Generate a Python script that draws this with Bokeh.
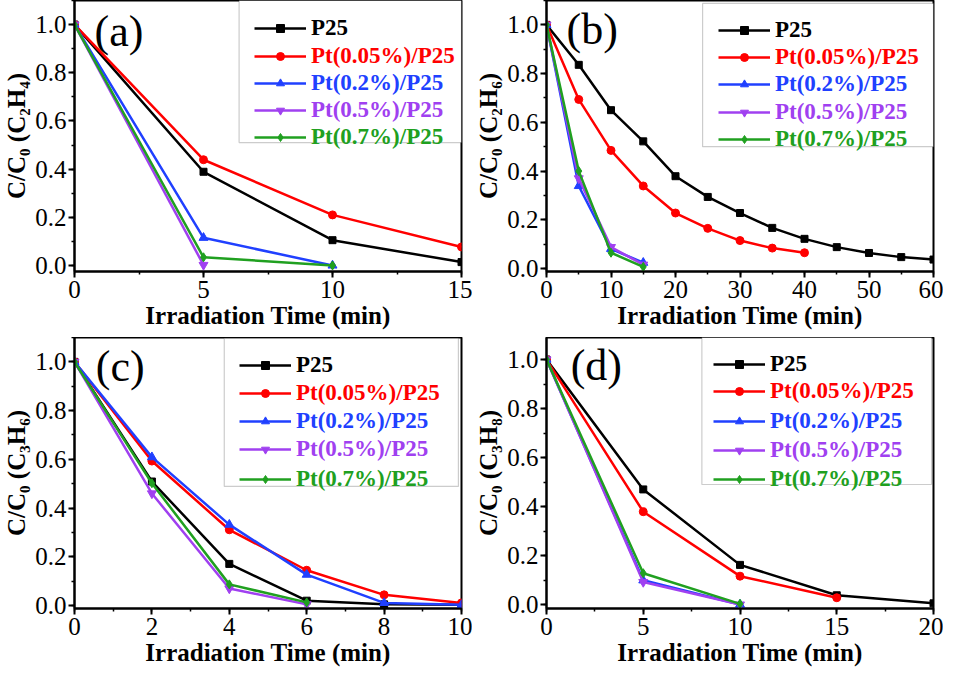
from bokeh.plotting import figure
from bokeh.layouts import gridplot
from bokeh.models import (Range1d, SingleIntervalTicker, Legend, LegendItem,
                          BoxAnnotation, Label, PrintfTickFormatter)
from bokeh.core.properties import value
from bokeh.embed import file_html
from bokeh.resources import INLINE

# ---------------- data ----------------
series_names = ["P25", "Pt(0.05%)/P25", "Pt(0.2%)/P25", "Pt(0.5%)/P25", "Pt(0.7%)/P25"]
series_colors = ["#000000", "#ff0000", "#2040ff", "#a040f0", "#20a020"]
series_markers = ["square", "circle", "triangle", "inverted_triangle", "diamond"]
marker_sizes = [7, 8, 9, 9, 9]
x_title = "Irradiation Time (min)"

# (a) C2H4
time_a = [0, 5, 10, 15]
a_p25 = [1.0, 0.389, 0.105, 0.014]
a_pt005 = [1.0, 0.439, 0.210, 0.077]
a_pt02 = [1.0, 0.115, 0.0]
a_pt05 = [1.0, 0.002]
a_pt07 = [1.0, 0.034, 0.0]

# (b) C2H6
time_b = [0, 5, 10, 15, 20, 25, 30, 35, 40, 45, 50, 55, 60]
b_p25 = [1.0, 0.836, 0.650, 0.522, 0.379, 0.294, 0.228, 0.167, 0.122, 0.088, 0.064, 0.047, 0.037]
b_pt005 = [1.0, 0.694, 0.485, 0.339, 0.228, 0.165, 0.115, 0.084, 0.065]
b_pt02 = [1.0, 0.339, 0.081, 0.024]
b_pt05 = [1.0, 0.370, 0.088, 0.016]
b_pt07 = [1.0, 0.400, 0.065, 0.007]

# (c) C3H6
time_c = [0, 2, 4, 6, 8, 10]
c_p25 = [1.0, 0.509, 0.171, 0.020, 0.005, 0.003]
c_pt005 = [1.0, 0.593, 0.311, 0.145, 0.044, 0.011]
c_pt02 = [1.0, 0.609, 0.332, 0.127, 0.011, 0.003]
c_pt05 = [1.0, 0.460, 0.070, 0.005]
c_pt07 = [1.0, 0.502, 0.087, 0.013]

# (d) C3H8
time_d = [0, 5, 10, 15, 20]
d_p25 = [1.0, 0.470, 0.162, 0.038, 0.005]
d_pt005 = [1.0, 0.379, 0.116, 0.028]
d_pt02 = [1.0, 0.099, 0.0]
d_pt05 = [1.0, 0.092, 0.0]
d_pt07 = [1.0, 0.128, 0.003]

FONT = "Liberation Serif"


def make_panel(times, series, xr, yr, x_int, ylabel, tag, tag_xy, box,
               leg_x, rows_top, left, fw, right, top, fh, bottom):
    p = figure(frame_width=fw, frame_height=fh,
               min_border_left=left, min_border_right=right,
               min_border_top=top, min_border_bottom=bottom,
               x_range=Range1d(*xr), y_range=Range1d(*yr),
               output_backend="svg", toolbar_location=None, tools="")
    p.background_fill_color = "white"
    p.border_fill_color = "white"
    p.outline_line_color = "black"
    p.outline_line_width = 2
    p.grid.visible = False

    p.xaxis.ticker = SingleIntervalTicker(interval=x_int, num_minor_ticks=2)
    p.yaxis.ticker = SingleIntervalTicker(interval=0.2, num_minor_ticks=2)
    p.yaxis.formatter = PrintfTickFormatter(format="%.1f")
    p.xaxis.axis_label = x_title
    p.yaxis.axis_label = ylabel
    for ax in (p.xaxis[0], p.yaxis[0]):
        ax.axis_line_width = 2
        ax.major_tick_line_width = 2
        ax.major_tick_out = 6
        ax.major_tick_in = 0
        ax.minor_tick_out = 3
        ax.minor_tick_in = 0
        ax.minor_tick_line_width = 1.5
        ax.major_label_text_font = FONT
        ax.major_label_text_font_size = "25px"
        ax.major_label_text_color = "black"
        ax.axis_label_text_font = FONT
        ax.axis_label_text_font_style = "bold"
        ax.axis_label_text_font_size = "25px"
        ax.axis_label_text_color = "black"
    p.xaxis.major_label_standoff = 3
    p.xaxis.axis_label_standoff = 1
    p.yaxis.major_label_standoff = 2
    p.yaxis.axis_label_standoff = 2

    rends = []
    for ys, col, mk, ms in zip(series, series_colors, series_markers, marker_sizes):
        xs = times[:len(ys)]
        lr = p.line(xs, ys, line_color=col, line_width=2.5)
        sr = p.scatter(xs, ys, marker=mk, size=ms, fill_color=col, line_color=col)
        rends.append((lr, sr))

    p.add_layout(BoxAnnotation(left=box[0], right=box[1], bottom=box[2], top=box[3],
                               fill_color="white", fill_alpha=1.0,
                               line_color="#555555", line_width=1.2))

    leg_h = 26
    for (lr, sr), name, col, rt in zip(rends, series_names, series_colors, rows_top):
        leg = Legend(items=[LegendItem(label=value(name), renderers=[lr, sr])],
                     location=(leg_x, fh - rt - leg_h / 2),
                     label_text_font=FONT, label_text_font_style="bold",
                     label_text_font_size="23px", label_text_color=col,
                     glyph_width=52, glyph_height=20, label_height=20,
                     label_standoff=5, padding=0, margin=0, spacing=0,
                     border_line_alpha=0, background_fill_alpha=0)
        p.add_layout(leg)

    p.add_layout(Label(x=tag_xy[0], y=tag_xy[1], text=tag, text_font=FONT,
                       text_font_size="44px", text_baseline="middle",
                       text_align="left", text_color="black"))
    return p


FH = 271
pa = make_panel(time_a, [a_p25, a_pt005, a_pt02, a_pt05, a_pt07], (0, 15), (-0.025, 1.1), 5,
                "C/C\u2080 (C\u2082H\u2084)", "(a)", (0.78, 0.97), (6.38, 15, 0.51, 1.1),
                180, [28, 55.7, 83, 110.3, 137.3], 70, 387, 11, 0, FH, 66)
pb = make_panel(time_b, [b_p25, b_pt005, b_pt02, b_pt05, b_pt07], (0, 60), (-0.012, 1.1), 10,
                "C/C\u2080 (C\u2082H\u2086)", "(b)", (3.1, 0.98), (24.2, 60, 0.50, 1.088),
                172, [30, 57, 84, 112, 139], 70, 387, 10, 0, FH, 66)
pc = make_panel(time_c, [c_p25, c_pt005, c_pt02, c_pt05, c_pt07], (0, 10), (-0.012, 1.1), 2,
                "C/C\u2080 (C\u2083H\u2086)", "(c)", (0.55, 0.98), (3.87, 9.92, 0.489, 1.096),
                165, [28, 55.7, 84, 112.3, 141.7], 70, 387, 11, 0, FH, 66)
pd = make_panel(time_d, [d_p25, d_pt005, d_pt02, d_pt05, d_pt07], (0, 20), (-0.016, 1.09), 5,
                "C/C\u2080 (C\u2083H\u2088)", "(d)", (1.25, 0.976), (8.03, 19.9, 0.49, 1.09),
                167, [27, 54.3, 83.7, 113, 142], 70, 387, 10, 0, FH, 66)

grid = gridplot([[pa, pb], [pc, pd]], toolbar_location=None)

open("out.html", "w").write(file_html(grid, INLINE))
